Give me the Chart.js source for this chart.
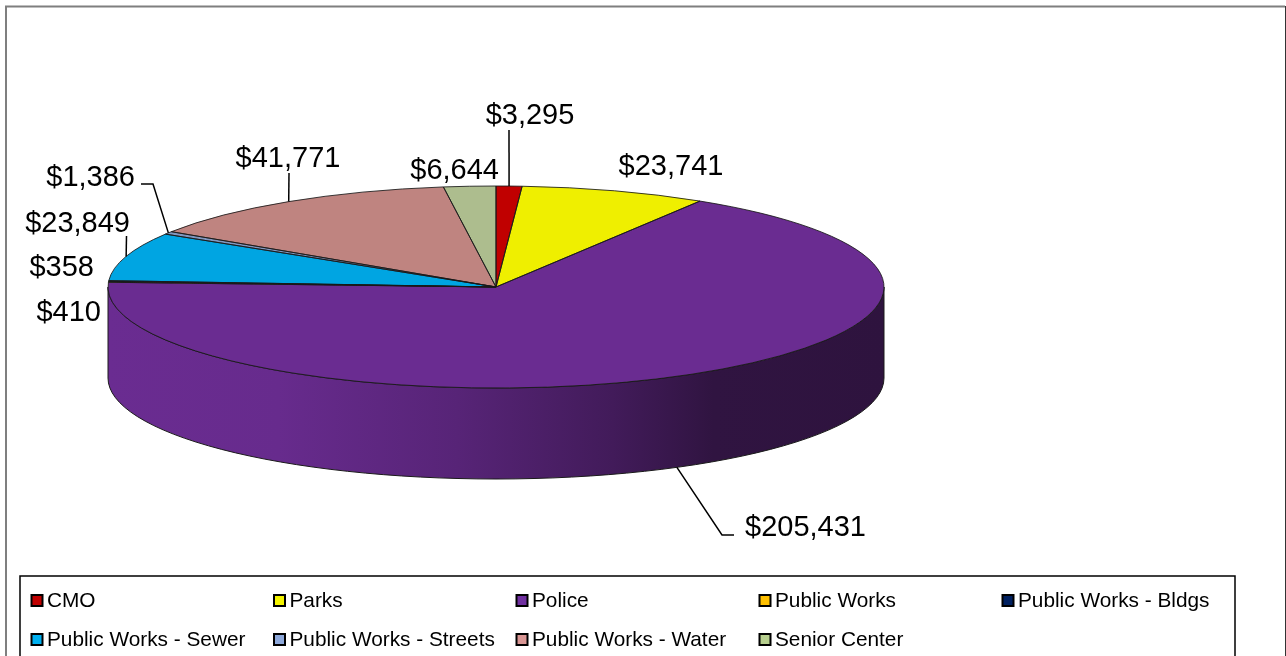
<!DOCTYPE html>
<html>
<head>
<meta charset="utf-8">
<style>html,body{margin:0;padding:0;background:#fff}canvas{display:block}</style>
<script src="https://cdn.jsdelivr.net/npm/chart.js@4"></script>
</head>
<body>
<canvas id="c" width="1286" height="656"></canvas>
<script>
const categories = ['CMO','Parks','Police','Public Works','Public Works - Bldgs','Public Works - Sewer','Public Works - Streets','Public Works - Water','Senior Center'];
const amounts = [3295,23741,205431,410,358,23849,1386,41771,6644];
const sliceColors = ['#C00000','#EFEF00','#6A2C91','#FFC000','#002060','#00A5E2','#7F97C0','#BF8480','#ADBD8E'];
const swatchColors = ['#C00000','#F4F400','#7030A0','#FFC000','#002060','#00B0F0','#8EA9DB','#D99694','#B7CF8E'];

// Pie geometry on the page: the round pie is flattened into this ellipse.
const pie = {cx: 496, cy: 287, rx: 388, ry: 101, depth: 91};
const ink = '#1a1a1a';
const labelFont = '29px "Liberation Sans", Arial, sans-serif';
const legendFont = '20.8px "Liberation Sans", Arial, sans-serif';

// Where each value label sits, with its optional leader elbow points.
const labelPlaces = [
  {x: 530, y: 115.5, align: 'center', leader: [[509, 130]]},
  {x: 671, y: 167, align: 'center'},
  {x: 745, y: 527.5, align: 'left', rim: 'bottom', leader: [[722, 535], [734, 535]]},
  {x: 101, y: 312.5, align: 'right'},
  {x: 94, y: 267.5, align: 'right'},
  {x: 130, y: 223.5, align: 'right', leader: [[126.5, 236]]},
  {x: 135, y: 177.5, align: 'right', leader: [[153, 184], [141, 184]]},
  {x: 288, y: 158.5, align: 'center', leader: [[289, 173]]},
  {x: 499, y: 170.5, align: 'right'}
];

const legendLayout = {left: 20, top: 576, right: 1235,
  columns: [31, 273.5, 516, 759, 1002], rows: [600.5, 639.5]};

const fmt = v => '$' + v.toLocaleString('en-US');

function shade(hex, f) {
  const n = parseInt(hex.slice(1), 16);
  return `rgb(${Math.round((n >> 16) * f)},${Math.round(((n >> 8) & 255) * f)},${Math.round((n & 255) * f)})`;
}

const pie3d = {
  id: 'pie3d',
  beforeDatasetsDraw(chart) {
    const ctx = chart.ctx;
    const arcs = chart.getDatasetMeta(0).data;

    // Side wall: only the near half of the ellipse shows it.
    arcs.forEach((arc, i) => {
      const a0 = Math.max(arc.startAngle, 0), a1 = Math.min(arc.endAngle, Math.PI);
      if (a1 <= a0) return;
      const base = sliceColors[i];
      const g = ctx.createLinearGradient(pie.cx - pie.rx, 0, pie.cx + pie.rx, 0);
      g.addColorStop(0, shade(base, 1.0));
      g.addColorStop(0.22, shade(base, 0.97));
      g.addColorStop(0.45, shade(base, 0.82));
      g.addColorStop(0.65, shade(base, 0.62));
      g.addColorStop(0.78, shade(base, 0.45));
      g.addColorStop(1, shade(base, 0.43));
      ctx.beginPath();
      ctx.ellipse(pie.cx, pie.cy + pie.depth, pie.rx, pie.ry, 0, a0, a1);
      ctx.ellipse(pie.cx, pie.cy, pie.rx, pie.ry, 0, a1, a0, true);
      ctx.closePath();
      ctx.fillStyle = g;
      ctx.fill();
      ctx.strokeStyle = ink;
      ctx.lineWidth = 1;
      ctx.stroke();
    });

    // Flatten the chart's own arcs into the ellipse.
    const first = arcs[0];
    ctx.save();
    ctx.translate(pie.cx, pie.cy);
    ctx.scale(pie.rx / first.outerRadius, pie.ry / first.outerRadius);
    ctx.translate(-first.x, -first.y);
  },
  afterDatasetsDraw(chart) {
    const ctx = chart.ctx;
    ctx.restore();
    const arcs = chart.getDatasetMeta(0).data;

    // Slice outlines, kept at one pixel regardless of the flattening.
    ctx.strokeStyle = 'rgba(25,25,25,0.85)';
    ctx.lineWidth = 1;
    arcs.forEach(arc => {
      ctx.beginPath();
      ctx.moveTo(pie.cx, pie.cy);
      ctx.ellipse(pie.cx, pie.cy, pie.rx, pie.ry, 0, arc.startAngle, arc.endAngle);
      ctx.closePath();
      ctx.stroke();
    });

    // Leader lines start on the rim at each slice's middle angle.
    ctx.strokeStyle = '#000';
    arcs.forEach((arc, i) => {
      const p = labelPlaces[i];
      if (!p.leader) return;
      const mid = (arc.startAngle + arc.endAngle) / 2;
      const drop = p.rim === 'bottom' ? pie.depth : 0;
      ctx.beginPath();
      ctx.moveTo(pie.cx + pie.rx * Math.cos(mid), pie.cy + drop + pie.ry * Math.sin(mid));
      p.leader.forEach(pt => ctx.lineTo(pt[0], pt[1]));
      ctx.lineWidth = 1.5;
      ctx.stroke();
    });

    // Value labels
    ctx.fillStyle = '#000';
    ctx.font = labelFont;
    ctx.textBaseline = 'middle';
    amounts.forEach((v, i) => {
      const p = labelPlaces[i];
      ctx.textAlign = p.align;
      ctx.fillText(fmt(v), p.x, p.y);
    });

    // Chart frame: open along the bottom edge of the page.
    ctx.strokeStyle = '#7f7f7f';
    ctx.lineWidth = 2;
    ctx.beginPath();
    ctx.moveTo(6, 656);
    ctx.lineTo(6, 6.5);
    ctx.lineTo(1285, 6.5);
    ctx.stroke();
    ctx.strokeStyle = '#333';
    ctx.lineWidth = 1;
    ctx.beginPath();
    ctx.moveTo(1285.5, 6);
    ctx.lineTo(1285.5, 656);
    ctx.stroke();

    // Legend box and entries
    const L = legendLayout;
    ctx.strokeStyle = '#000';
    ctx.lineWidth = 1.5;
    ctx.beginPath();
    ctx.moveTo(L.left, 656);
    ctx.lineTo(L.left, L.top);
    ctx.lineTo(L.right, L.top);
    ctx.lineTo(L.right, 656);
    ctx.stroke();
    ctx.font = legendFont;
    ctx.textAlign = 'left';
    categories.forEach((name, i) => {
      const x = L.columns[i % 5], y = L.rows[Math.floor(i / 5)];
      ctx.fillStyle = swatchColors[i];
      ctx.strokeStyle = '#000';
      ctx.lineWidth = 2;
      ctx.beginPath();
      ctx.rect(x + 0.5, y - 5.5, 11, 11);
      ctx.fill();
      ctx.stroke();
      ctx.fillStyle = '#000';
      ctx.fillText(name, x + 16, y + 0.5);
    });
  }
};

new Chart(document.getElementById('c'), {
  type: 'pie',
  data: {
    labels: categories,
    datasets: [{data: amounts, backgroundColor: sliceColors, borderWidth: 0, hoverOffset: 0}]
  },
  options: {
    responsive: false,
    animation: false,
    events: [],
    plugins: {legend: {display: false}, tooltip: {enabled: false}}
  },
  plugins: [pie3d]
});
</script>
</body>
</html>
